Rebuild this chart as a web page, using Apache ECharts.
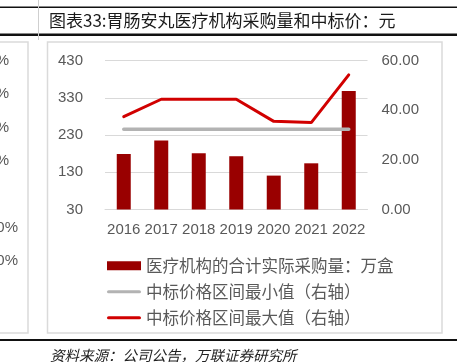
<!DOCTYPE html>
<html>
<head>
<meta charset="utf-8">
<script src="https://cdn.jsdelivr.net/npm/echarts@6/dist/echarts.min.js"></script>
<style>
html,body{margin:0;padding:0;background:#fff;}
#c{width:457px;height:362px;}
</style>
</head>
<body>
<div id="c"></div>
<script>
// ---- data ----
const years = ['2016', '2017', '2018', '2019', '2020', '2021', '2022'];
const volume = [179, 215, 181, 173, 121, 154, 348];            // 万盒 (left axis)
const priceMin = [32.3, 32.3, 32.3, 32.3, 32.3, 32.3, 32.3];   // 元 (right axis)
const priceMax = [37.4, 44.4, 44.4, 44.4, 35.5, 35.0, 54.2];   // 元 (right axis)
const seriesNames = ['医疗机构的合计实际采购量：万盒', '中标价格区间最小值（右轴）', '中标价格区间最大值（右轴）'];
const titleText = '图表33:胃肠安丸医疗机构采购量和中标价：元';
const sourceText = '资料来源：公司公告，万联证券研究所';
const leftAxisRange = [30, 430, 100];
const rightAxisRange = [0, 60, 20];
const sideFragments = ['%', '%', '%', '%', '0%', '0%'];

const CJK = '"Noto Sans CJK SC", sans-serif';
const LAT = '"Liberation Sans", Arial, sans-serif';
const gray = '#595959';
const lineIcon = 'path://M1.6,0 L32.4,0 A1.6,1.6 0 0 1 32.4,3.2 L1.6,3.2 A1.6,1.6 0 0 1 1.6,0 Z';

const chart = echarts.init(document.getElementById('c'), null, {renderer: 'canvas'});

const fragY = [61, 94, 128, 161, 228, 261];
const fragRight = [9, 9, 9, 9, 18, 18];
const fragGraphics = sideFragments.map((t, i) => ({
  type: 'text', x: fragRight[i], y: fragY[i],
  style: {text: t, fill: gray, font: '15px ' + LAT, textAlign: 'right', textVerticalAlign: 'middle'}
}));

chart.setOption({
  animation: false,
  backgroundColor: '#fff',
  grid: {left: 105, top: 60.5, width: 262.5, height: 149, containLabel: false},
  legend: {
    orient: 'vertical', left: 102, top: 252.5, itemWidth: 34, itemHeight: 9, itemGap: 9.5,
    symbolKeepAspect: true,
    textStyle: {color: gray, fontSize: 16.5, fontFamily: CJK},
    data: [
      {name: seriesNames[0], icon: 'rect'},
      {name: seriesNames[1], icon: lineIcon},
      {name: seriesNames[2], icon: lineIcon}
    ]
  },
  xAxis: {
    type: 'category', data: years,
    axisLine: {lineStyle: {color: '#d9d9d9', width: 1}},
    axisTick: {show: false},
    axisLabel: {color: gray, fontSize: 15, fontFamily: LAT, margin: 13, interval: 0}
  },
  yAxis: [
    {
      type: 'value', min: leftAxisRange[0], max: leftAxisRange[1], interval: leftAxisRange[2],
      axisLine: {show: false}, axisTick: {show: false},
      splitLine: {lineStyle: {color: '#d9d9d9', width: 1}},
      axisLabel: {color: gray, fontSize: 15, fontFamily: LAT, margin: 22}
    },
    {
      type: 'value', min: rightAxisRange[0], max: rightAxisRange[1], interval: rightAxisRange[2],
      axisLine: {show: false}, axisTick: {show: false}, splitLine: {show: false},
      axisLabel: {color: gray, fontSize: 15, fontFamily: LAT, margin: 14,
        formatter: v => v.toFixed(2)}
    }
  ],
  series: [
    {name: seriesNames[0], type: 'bar', data: volume, yAxisIndex: 0, barWidth: 14,
      itemStyle: {color: '#990000'}},
    {name: seriesNames[1], type: 'line', data: priceMin, yAxisIndex: 1, symbol: 'none',
      lineStyle: {color: '#b3b3b3', width: 3.5, cap: 'round'}, itemStyle: {color: '#b3b3b3'}},
    {name: seriesNames[2], type: 'line', data: priceMax, yAxisIndex: 1, symbol: 'none',
      lineStyle: {color: '#d10000', width: 3, cap: 'round'}, itemStyle: {color: '#d10000'}}
  ],
  graphic: [
    {type: 'rect', shape: {x: 0, y: 6.5, width: 457, height: 1.5}, style: {fill: '#111'}},
    {type: 'rect', shape: {x: 0, y: 33.5, width: 457, height: 2.5}, style: {fill: '#111'}},
    {type: 'rect', shape: {x: 0, y: 339, width: 457, height: 2}, style: {fill: '#111'}},
    {type: 'line', shape: {x1: 38.5, y1: 0, x2: 38.5, y2: 40}, style: {stroke: '#cfcfcf', lineWidth: 1}},
    {type: 'rect', shape: {x: -10, y: 42, width: 38, height: 291}, style: {fill: 'none', stroke: '#dadada', lineWidth: 1.5}},
    {type: 'rect', shape: {x: 47.5, y: 42, width: 394.5, height: 291}, style: {fill: 'none', stroke: '#dadada', lineWidth: 1.5}},
    {type: 'text', x: 49, y: 20.5, style: {text: titleText, fill: '#1a1a1a', font: '17px ' + CJK, textVerticalAlign: 'middle'}},
    {type: 'text', x: 50, y: 355, style: {text: sourceText, fill: '#222', font: 'italic 14.5px ' + CJK, textVerticalAlign: 'middle'}},
    ...fragGraphics
  ]
});
</script>
</body>
</html>
